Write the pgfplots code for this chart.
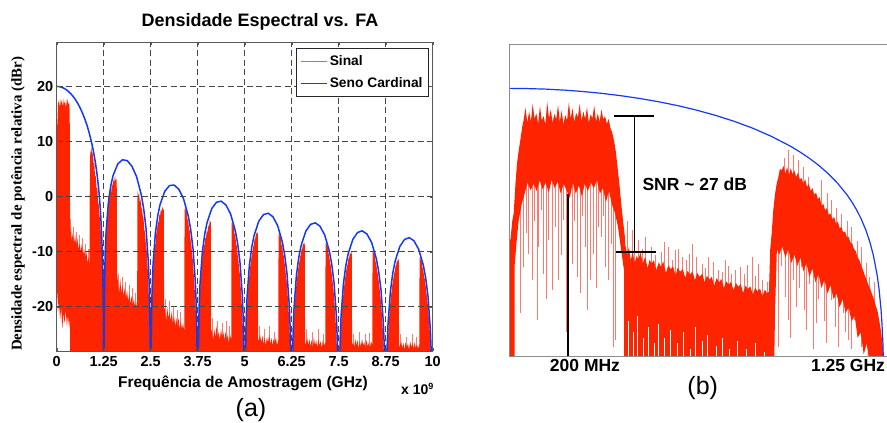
\documentclass[border=0pt]{standalone}
\usepackage{fontspec}
\setmainfont{Liberation Sans}
\newfontfamily\serifbold{Liberation Serif}
\usepackage{pgfplots}
\pgfplotsset{compat=1.18}
\definecolor{sigred}{RGB}{255,36,0}
\definecolor{spk}{RGB}{255,120,110}
\definecolor{sincblue}{RGB}{20,55,250}
\definecolor{gridgray}{RGB}{70,70,70}
\newcommand\fs[1]{\fontsize{#1}{#1}\selectfont}
\begin{document}
\begin{tikzpicture}
\path[use as bounding box] (0pt,0pt) rectangle (887pt,423pt);
% ---------------- panel (a) ----------------
\begin{axis}[at={(56.7pt,72pt)}, anchor=south west, width=376pt, height=308.7pt, scale only axis,
  xmin=0, xmax=10, ymin=-28, ymax=28,
  xtick={0,1.25,2.5,3.75,5,6.25,7.5,8.75,10},
  xticklabels={0,1.25,2.5,3.75,5,6.25,7.5,8.75,10},
  ytick={-20,-10,0,10,20}, yticklabels={-20,-10,0,10,20},
  grid=major, major grid style={gridgray, line width=0.9pt, dash pattern=on 6pt off 3.5pt},
  axis on top,
  tick label style={font=\bfseries\fs{14.5}},
  xticklabel style={yshift=-2pt},
  axis line style={black!65, line width=0.9pt},
  tick align=inside, major tick length=3pt, tick style={black!65},
  legend style={at={(0.99,0.9815)}, anchor=north east, draw=black!85, line width=0.8pt, fill=white,
    font=\bfseries\fs{13.8}, row sep=7pt, inner xsep=4pt, inner ysep=5pt},
  legend cell align=left,
  legend image code/.code={\draw[#1] (0pt,0pt) -- (26pt,0pt);},
]
\addplot[spk, line width=0.6pt, unbounded coords=jump, forget plot] coordinates {
(0.37,-28) (0.37,-4) (0.37,nan) (0.45,-28) (0.45,-5.5) (0.45,nan) (0.53,-28) (0.53,-6.5) (0.53,nan) (0.6,-28) (0.6,-7) (0.6,nan)
(0.68,-28) (0.68,-7.5) (0.68,nan) (0.75,-28) (0.75,-8.5) (0.75,nan) (0.83,-28) (0.83,-9.5) (0.83,nan)
(1.65,-28) (1.65,-14) (1.65,nan) (1.74,-28) (1.74,-14.5) (1.74,nan) (1.83,-28) (1.83,-15.5) (1.83,nan) (1.92,-28) (1.92,-16) (1.92,nan) (2.0,-28) (2.0,-16.5) (2.0,nan) (2.09,-28) (2.09,-17.5) (2.09,nan)
(2.9,-28) (2.9,-18.5) (2.9,nan) (3.0,-28) (3.0,-19) (3.0,nan) (3.1,-28) (3.1,-20) (3.1,nan) (3.2,-28) (3.2,-20.5) (3.2,nan) (3.3,-28) (3.3,-21) (3.3,nan)
(4.15,-28) (4.15,-22) (4.15,nan) (4.27,-28) (4.27,-22.5) (4.27,nan) (4.4,-28) (4.4,-23) (4.4,nan) (4.5,-28) (4.5,-22.5) (4.5,nan) (4.6,-28) (4.6,-23.5) (4.6,nan)
(5.4,-28) (5.4,-23.5) (5.4,nan) (5.52,-28) (5.52,-24) (5.52,nan) (5.66,-28) (5.66,-23.5) (5.66,nan) (5.78,-28) (5.78,-24.5) (5.78,nan)
(6.65,-28) (6.65,-24) (6.65,nan) (6.8,-28) (6.8,-24.5) (6.8,nan) (6.95,-28) (6.95,-24) (6.95,nan) (7.08,-28) (7.08,-25) (7.08,nan)
(7.9,-28) (7.9,-25) (7.9,nan) (8.05,-28) (8.05,-24.5) (8.05,nan) (8.2,-28) (8.2,-25) (8.2,nan) (8.32,-28) (8.32,-24.8) (8.32,nan)
(9.15,-28) (9.15,-25) (9.15,nan) (9.3,-28) (9.3,-25.5) (9.3,nan) (9.45,-28) (9.45,-25) (9.45,nan) (9.57,-28) (9.57,-25.5) (9.57,nan)
};
\addplot[fill=sigred, draw=none, forget plot] coordinates {
(0,-21) (0,8) (0.012,14) (0.02,11) (0.03,16.5) (0.05,17.5) (0.07,16) (0.09,17.8) (0.11,16.4) (0.13,17.6) (0.15,16.2) (0.17,17.9) (0.19,16.5) (0.21,17.4) (0.23,16) (0.25,17.7) (0.27,16.3) (0.29,17.8) (0.31,16.6) (0.33,17.2) (0.345,15.5) (0.352,8) (0.355,-6)
(0.36,-7) (0.38,-5.5) (0.40,-8) (0.43,-6.5) (0.46,-8.5) (0.49,-7) (0.52,-9) (0.55,-7.5) (0.58,-9.5) (0.61,-8.5) (0.64,-10) (0.67,-8.5) (0.70,-10.5) (0.73,-9.5) (0.76,-11) (0.79,-10) (0.82,-12) (0.85,-11) (0.87,-13)
(0.882,5) (0.89,8.5) (0.905,7) (0.92,9.2) (0.94,7.5) (0.96,8.2) (0.98,6) (1.0,6.2) (1.02,3.5) (1.04,3.8) (1.06,1.5) (1.08,1.6) (1.10,-1) (1.12,-1.5) (1.14,-3.5) (1.16,-4.5) (1.18,-7.5) (1.2,-9.5) (1.22,-14) (1.235,-20) (1.245,-28) (1.25,-40)
(1.255,-28) (1.265,-22) (1.28,-14) (1.295,-10) (1.31,-8) (1.33,-5.5) (1.35,-3) (1.37,-2.5) (1.39,-0.5) (1.41,-0.2) (1.43,1.2) (1.45,0.8) (1.47,2.4) (1.49,1.8) (1.51,3.2) (1.53,2.5) (1.55,3.8) (1.57,2.8) (1.59,3.2) (1.6,1) (1.605,-14)
(1.63,-15.5) (1.66,-17.5) (1.69,-15) (1.72,-17.5) (1.75,-16) (1.78,-18) (1.81,-16.5) (1.84,-18.5) (1.87,-17) (1.9,-19) (1.93,-17.5) (1.96,-19.5) (1.99,-18) (2.02,-19.8) (2.05,-18.5) (2.08,-20) (2.11,-19) (2.14,-20.5)
(2.145,-5) (2.15,1.2) (2.17,0) (2.19,0.8) (2.21,-1) (2.23,-0.5) (2.25,-2) (2.27,-2.3) (2.29,-3.5) (2.31,-4) (2.33,-6) (2.35,-6.5) (2.37,-8.5) (2.39,-9.5) (2.41,-12) (2.43,-14) (2.45,-18) (2.47,-22) (2.49,-28) (2.5,-40)
(2.505,-28) (2.515,-24) (2.53,-19) (2.55,-16) (2.57,-13) (2.59,-11) (2.61,-9) (2.63,-8.5) (2.65,-6.5) (2.67,-6) (2.69,-4.5) (2.71,-4.8) (2.73,-3.2) (2.75,-3.5) (2.77,-2.3) (2.79,-2.8) (2.81,-1.8) (2.83,-2.5) (2.85,-2.2) (2.855,-20)
(2.88,-20.5) (2.91,-22.5) (2.94,-20) (2.97,-22) (3.0,-21) (3.03,-22.5) (3.06,-20.8) (3.09,-23) (3.12,-21.5) (3.15,-23.5) (3.18,-22) (3.21,-23.5) (3.24,-22) (3.27,-24) (3.3,-22.5) (3.33,-24) (3.36,-23) (3.395,-24.5)
(3.4,-2.5) (3.42,-1.6) (3.44,-3) (3.46,-2.6) (3.48,-4.2) (3.5,-4.5) (3.52,-5.8) (3.54,-6.3) (3.56,-7.8) (3.58,-8.6) (3.6,-10.3) (3.62,-11.5) (3.64,-13.5) (3.66,-15.5) (3.68,-18) (3.7,-21) (3.72,-25) (3.74,-30) (3.75,-40)
(3.755,-30) (3.77,-26) (3.79,-21) (3.81,-18) (3.83,-15) (3.85,-13.5) (3.87,-11.5) (3.89,-10.5) (3.91,-9) (3.93,-8.8) (3.95,-7.5) (3.97,-7.6) (3.99,-6.2) (4.01,-6.5) (4.03,-5.2) (4.05,-5.6) (4.07,-4.3) (4.09,-4.8) (4.1,-4.5) (4.105,-24)
(4.13,-24.5) (4.16,-26) (4.19,-24) (4.22,-25.5) (4.25,-23.5) (4.28,-25.5) (4.31,-24.5) (4.34,-26) (4.37,-24) (4.4,-25.5) (4.43,-24.5) (4.46,-26) (4.49,-24.5) (4.52,-26) (4.55,-25) (4.58,-26.5) (4.61,-25) (4.645,-26)
(4.65,-5) (4.67,-4.3) (4.69,-5.6) (4.71,-5.2) (4.73,-6.8) (4.75,-7) (4.77,-8.5) (4.79,-9) (4.81,-10.5) (4.83,-11.2) (4.85,-13) (4.87,-14) (4.89,-16) (4.91,-18) (4.93,-20.5) (4.95,-23.5) (4.97,-27) (4.99,-32) (5.0,-40)
(5.005,-32) (5.02,-28) (5.04,-24) (5.06,-20.5) (5.08,-18) (5.1,-16) (5.12,-14.5) (5.14,-13) (5.16,-12) (5.18,-11) (5.2,-10.3) (5.22,-9.2) (5.24,-8.8) (5.26,-7.8) (5.28,-7.6) (5.3,-6.8) (5.32,-6.5) (5.34,-6.9) (5.35,-6.3) (5.355,-26)
(5.38,-26) (5.41,-25) (5.44,-26.5) (5.47,-25.2) (5.5,-26.8) (5.53,-25.5) (5.56,-27) (5.59,-25.5) (5.62,-26.5) (5.65,-25) (5.68,-26.8) (5.71,-25.6) (5.74,-27) (5.77,-25.8) (5.8,-26.5) (5.83,-25.5) (5.86,-27) (5.895,-26)
(5.9,-7) (5.92,-6.5) (5.94,-7.6) (5.96,-7.3) (5.98,-8.8) (6.0,-9) (6.02,-10.3) (6.04,-10.8) (6.06,-12) (6.08,-13) (6.1,-14.5) (6.12,-15.5) (6.14,-17.5) (6.16,-19.5) (6.18,-22) (6.2,-25) (6.22,-28.5) (6.25,-40)
(6.255,-34) (6.27,-30) (6.29,-26) (6.31,-22.5) (6.33,-20) (6.35,-18) (6.37,-16.2) (6.39,-15) (6.41,-13.8) (6.43,-12.8) (6.45,-12) (6.47,-11) (6.49,-10.6) (6.51,-9.6) (6.53,-9.4) (6.55,-8.6) (6.57,-8.5) (6.59,-8.8) (6.6,-8.2) (6.605,-27)
(6.63,-26.5) (6.66,-25.5) (6.69,-27) (6.72,-25.8) (6.75,-27.2) (6.78,-26) (6.81,-27.5) (6.84,-25.5) (6.87,-27) (6.9,-26) (6.93,-27.4) (6.96,-25.8) (6.99,-27) (7.02,-26.2) (7.05,-27.5) (7.08,-26) (7.11,-27) (7.145,-26.5)
(7.15,-8.6) (7.17,-8.2) (7.19,-9.2) (7.21,-9) (7.23,-10.3) (7.25,-10.8) (7.27,-12) (7.29,-12.5) (7.31,-13.8) (7.33,-14.8) (7.35,-16.2) (7.37,-17.5) (7.39,-19.5) (7.41,-21.5) (7.43,-24) (7.45,-27) (7.47,-31) (7.5,-40)
(7.505,-34) (7.52,-31) (7.54,-27) (7.56,-24) (7.58,-21.5) (7.6,-19.5) (7.62,-18) (7.64,-16.5) (7.66,-15.5) (7.68,-14.3) (7.7,-13.5) (7.72,-12.6) (7.74,-12.2) (7.76,-11.2) (7.78,-11) (7.8,-10.2) (7.82,-10.4) (7.84,-10) (7.85,-10.6) (7.855,-27)
(7.88,-26.5) (7.91,-27.3) (7.94,-25.8) (7.97,-27) (8.0,-26) (8.03,-27.5) (8.06,-26.2) (8.09,-27.2) (8.12,-25.8) (8.15,-27) (8.18,-26.4) (8.21,-27.5) (8.24,-26) (8.27,-27.2) (8.3,-26.5) (8.33,-27.5) (8.36,-26.2) (8.395,-27)
(8.4,-10) (8.42,-9.6) (8.44,-10.6) (8.46,-10.5) (8.48,-11.8) (8.5,-12.2) (8.52,-13.3) (8.54,-14) (8.56,-15) (8.58,-16.2) (8.6,-17.4) (8.62,-18.8) (8.64,-20.5) (8.66,-22.5) (8.68,-25) (8.7,-28) (8.72,-32) (8.75,-40)
(8.755,-36) (8.77,-32) (8.79,-29) (8.81,-26) (8.83,-23) (8.85,-21) (8.87,-19.5) (8.89,-18) (8.91,-17) (8.93,-15.8) (8.95,-15) (8.97,-14) (8.99,-13.6) (9.01,-12.6) (9.03,-12.4) (9.05,-11.5) (9.07,-11.8) (9.09,-11.2) (9.1,-11.8) (9.105,-27.5)
(9.13,-27) (9.16,-26.2) (9.19,-27.5) (9.22,-26.5) (9.25,-27.8) (9.28,-26.4) (9.31,-27.4) (9.34,-26.6) (9.37,-27.8) (9.4,-26.2) (9.43,-27.3) (9.46,-26.5) (9.49,-27.6) (9.52,-26.4) (9.55,-27.5) (9.58,-26.8) (9.61,-27.6) (9.645,-26.8)
(9.65,-11.2) (9.67,-10.8) (9.69,-11.8) (9.71,-11.6) (9.73,-12.9) (9.75,-13.3) (9.77,-14.4) (9.79,-15) (9.81,-16) (9.83,-17.2) (9.85,-18.4) (9.87,-19.6) (9.89,-21.2) (9.91,-23) (9.93,-25.2) (9.95,-28) (9.97,-32) (10,-40)
(0.36,-40) (0.354,-22) (0.33,-24) (0.3,-21.5) (0.27,-23.5) (0.24,-20.5) (0.21,-23) (0.18,-21) (0.15,-24) (0.12,-20) (0.09,-22.5) (0.06,-19) (0.035,-21) (0.015,-16) (0,-21)
};
\addplot[sincblue, line width=1.5pt, forget plot] coordinates {
(0,20) (0.0625,19.96) (0.125,19.86) (0.1875,19.68) (0.25,19.42) (0.3125,19.09) (0.375,18.67) (0.4375,18.17) (0.5,17.58) (0.5625,16.89) (0.625,16.08) (0.6875,15.14) (0.75,14.06) (0.8125,12.80) (0.875,11.31) (0.9375,9.55) (0.96875,8.52) (1.0,7.38) (1.03125,6.09) (1.0625,4.61) (1.09375,2.87) (1.125,0.77) (1.140625,-0.47) (1.15625,-1.90) (1.171875,-3.58) (1.1875,-5.61) (1.2,-7.63) (1.2125,-10.21) (1.225,-13.81) (1.23125,-16.35) (1.2375,-19.91) (1.240625,-22.43) (1.24375,-25.98) (1.2475,-33.96) (1.25,-60)
(1.2625,-20.09) (1.2875,-10.73) (1.3125,-6.48) (1.375,-0.97) (1.4375,1.98) (1.5,3.85) (1.625,5.94) (1.75,6.69) (1.875,6.54) (2.0,5.53) (2.125,3.61) (2.25,0.33) (2.3125,-2.15) (2.375,-5.72) (2.4375,-11.85) (2.4625,-16.36) (2.4875,-25.98) (2.5,-60)
(2.5125,-26.07) (2.5375,-16.62) (2.5625,-12.29) (2.625,-6.59) (2.6875,-3.45) (2.75,-1.41) (2.875,0.98) (3.0,2.01) (3.125,2.10) (3.25,1.32) (3.375,-0.41) (3.5,-3.51) (3.5625,-5.90) (3.625,-9.39) (3.6875,-15.45) (3.7125,-19.93) (3.7375,-29.52) (3.75,-60)
(3.7625,-29.57) (3.7875,-20.10) (3.8125,-15.74) (3.875,-9.97) (3.9375,-6.77) (4.0,-4.67) (4.125,-2.15) (4.25,-1.01) (4.375,-0.82) (4.5,-1.51) (4.625,-3.15) (4.75,-6.16) (4.8125,-8.51) (4.875,-11.96) (4.9375,-17.99) (4.9625,-22.45) (4.9875,-32.0) (5.0,-60)
(5.0125,-32.07) (5.0375,-22.58) (5.0625,-18.20) (5.125,-12.40) (5.1875,-9.16) (5.25,-7.03) (5.375,-4.45) (5.5,-3.25) (5.625,-3.01) (5.75,-3.64) (5.875,-5.23) (6.0,-8.19) (6.0625,-10.52) (6.125,-13.95) (6.1875,-19.95) (6.2125,-24.40) (6.2375,-33.97) (6.25,-60)
(6.2625,-34.0) (6.2875,-24.50) (6.3125,-20.12) (6.375,-14.29) (6.4375,-11.04) (6.5,-8.88) (6.625,-6.27) (6.75,-5.03) (6.875,-4.75) (7.0,-5.35) (7.125,-6.90) (7.25,-9.83) (7.3125,-12.15) (7.375,-15.56) (7.4375,-21.54) (7.4625,-25.99) (7.4875,-35.55) (7.5,-60)
(7.5125,-35.58) (7.5375,-26.08) (7.5625,-21.69) (7.625,-15.85) (7.6875,-12.58) (7.75,-10.41) (7.875,-7.77) (8.0,-6.51) (8.125,-6.20) (8.25,-6.77) (8.375,-8.31) (8.5,-11.21) (8.5625,-13.52) (8.625,-16.92) (8.6875,-22.89) (8.7125,-27.34) (8.7375,-36.9) (8.75,-60)
(8.7625,-36.92) (8.7875,-27.41) (8.8125,-23.02) (8.875,-17.17) (8.9375,-13.89) (9.0,-11.71) (9.125,-9.05) (9.25,-7.77) (9.375,-7.44) (9.5,-8.00) (9.625,-9.51) (9.75,-12.41) (9.8125,-14.70) (9.875,-18.10) (9.9375,-24.06) (9.9625,-28.5) (9.9875,-38.0) (10,-60)
};
\addlegendimage{sigred!75!white, line width=1pt}
\addlegendentry{Sinal}
\addlegendimage{sincblue, line width=1.5pt}
\addlegendentry{Seno Cardinal}
\end{axis}
\node[font=\bfseries\fs{18}] at (260pt,401pt) {Densidade Espectral vs. FA};
\node[rotate=90, font=\serifbold\bfseries\fs{14.9}] at (18pt,219pt) {Densidade espectral de potência relativa (dBr)};
\node[font=\bfseries\fs{15.5}] at (243pt,40pt) {Frequência de Amostragem (GHz)};
\node[font=\bfseries\fs{14}, anchor=base west, inner sep=0pt] at (401pt,28pt) {x 10\raisebox{5pt}{\fs{9}9}};
\node[font=\fs{25}] at (251pt,13pt) {(a)};
% ---------------- panel (b) ----------------
\begin{axis}[at={(509.5pt,66.3pt)}, anchor=south west, width=376.5pt, height=312.7pt, scale only axis,
  xmin=0.005, xmax=1.254, ymin=-28.4, ymax=28,
  xtick=\empty, ytick=\empty, axis line style={draw=none},
]
\addplot[spk, line width=0.6pt, unbounded coords=jump, forget plot] coordinates {
(0.041,8) (0.041,-20.6) (0.041,nan) (0.052,8) (0.052,-12.2) (0.052,nan) (0.06,8) (0.06,-6) (0.06,nan)
(0.0687,8) (0.0687,-9.8) (0.0687,nan) (0.0797,8) (0.0797,-14.6) (0.0797,nan) (0.088,8) (0.088,-4) (0.088,nan)
(0.0963,8) (0.0963,-21.8) (0.0963,nan) (0.1018,8) (0.1018,-8.6) (0.1018,nan) (0.11,8) (0.11,-2) (0.11,nan)
(0.1184,8) (0.1184,-13.4) (0.1184,nan) (0.128,8) (0.128,-18) (0.128,nan) (0.135,8) (0.135,-7.4) (0.135,nan)
(0.146,8) (0.146,-16.4) (0.146,nan) (0.158,8) (0.158,-5) (0.158,nan) (0.168,8) (0.168,-14.6) (0.168,nan)
(0.176,8) (0.176,-10) (0.176,nan) (0.185,8) (0.185,-3.8) (0.185,nan) (0.194,8) (0.194,-24) (0.194,nan)
(0.201,8) (0.201,-7.4) (0.201,nan) (0.212,8) (0.212,-11.6) (0.212,nan) (0.22,8) (0.22,-4) (0.22,nan)
(0.229,8) (0.229,-14) (0.229,nan) (0.24,8) (0.24,-17) (0.24,nan) (0.248,8) (0.248,-3) (0.248,nan)
(0.256,8) (0.256,-8.6) (0.256,nan) (0.264,8) (0.264,-20) (0.264,nan) (0.273,8) (0.273,-14.6) (0.273,nan)
(0.284,8) (0.284,-9.8) (0.284,nan) (0.292,8) (0.292,-16) (0.292,nan) (0.3,8) (0.3,-5) (0.3,nan)
(0.311,8) (0.311,-6.8) (0.311,nan) (0.316,8) (0.316,-3) (0.316,nan) (0.323,8) (0.323,-12.2) (0.323,nan)
(0.334,8) (0.334,-14.6) (0.334,nan) (0.342,8) (0.342,-8) (0.342,nan) (0.35,8) (0.35,-26.6) (0.35,nan) (0.356,5) (0.356,-25.4) (0.356,nan)
(0.395,-22) (0.395,-4) (0.395,nan) (0.411,-22) (0.411,-5.6) (0.411,nan) (0.42,-22) (0.42,-8) (0.42,nan)
(0.433,-22) (0.433,-7.4) (0.433,nan) (0.445,-22) (0.445,-9) (0.445,nan) (0.455,-22) (0.455,-6.8) (0.455,nan)
(0.477,-22) (0.477,-8.6) (0.477,nan) (0.49,-22) (0.49,-10) (0.49,nan) (0.51,-22) (0.51,-9.5) (0.51,nan)
(0.52,-22) (0.52,-7.8) (0.52,nan) (0.532,-22) (0.532,-8.6) (0.532,nan) (0.545,-22) (0.545,-11) (0.545,nan)
(0.554,-22) (0.554,-9.2) (0.554,nan) (0.565,-22) (0.565,-9) (0.565,nan) (0.577,-22) (0.577,-10.4) (0.577,nan)
(0.59,-22) (0.59,-11) (0.59,nan) (0.6,-22) (0.6,-9.8) (0.6,nan) (0.61,-22) (0.61,-8) (0.61,nan)
(0.625,-22) (0.625,-10.5) (0.625,nan) (0.643,-22) (0.643,-11.6) (0.643,nan) (0.655,-22) (0.655,-12.4) (0.655,nan)
(0.665,-22) (0.665,-10.4) (0.665,nan) (0.68,-22) (0.68,-11.4) (0.68,nan) (0.698,-22) (0.698,-12.8) (0.698,nan)
(0.71,-22) (0.71,-13.2) (0.71,nan) (0.72,-22) (0.72,-11) (0.72,nan) (0.73,-22) (0.73,-12) (0.73,nan)
(0.742,-22) (0.742,-13.4) (0.742,nan) (0.755,-22) (0.755,-12.8) (0.755,nan) (0.77,-22) (0.77,-12.2) (0.77,nan)
(0.785,-22) (0.785,-13.5) (0.785,nan) (0.795,-22) (0.795,-11.8) (0.795,nan) (0.809,-22) (0.809,-10.4) (0.809,nan)
(0.82,-22) (0.82,-13.8) (0.82,nan) (0.83,-22) (0.83,-11.6) (0.83,nan) (0.845,-22) (0.845,-14.6) (0.845,nan) (0.86,-22) (0.86,-15) (0.86,nan)
(0.897,-2) (0.897,-26.6) (0.897,nan) (0.908,-2) (0.908,-12) (0.908,nan) (0.919,-2) (0.919,-17.6) (0.919,nan)
(0.93,-2) (0.93,-21.8) (0.93,nan) (0.938,-2) (0.938,-25) (0.938,nan) (0.946,-3) (0.946,-14.6) (0.946,nan)
(0.957,-3) (0.957,-19.4) (0.957,nan) (0.965,-3) (0.965,-16) (0.965,nan) (0.974,-4) (0.974,-12.2) (0.974,nan)
(0.982,-4) (0.982,-20) (0.982,nan) (0.99,-5) (0.99,-23.6) (0.99,nan) (1.001,-5) (1.001,-15.2) (1.001,nan)
(1.012,-6) (1.012,-27) (1.012,nan) (1.023,-6) (1.023,-22.4) (1.023,nan) (1.03,-6) (1.03,-18) (1.03,nan)
(1.04,-7) (1.04,-14.6) (1.04,nan) (1.048,-7) (1.048,-22) (1.048,nan) (1.057,-8) (1.057,-26) (1.057,nan)
(1.073,-9) (1.073,-18.2) (1.073,nan) (1.085,-10) (1.085,-23) (1.085,nan) (1.095,-10) (1.095,-26.6) (1.095,nan)
(1.112,-11) (1.112,-20.6) (1.112,nan) (1.12,-12) (1.12,-24) (1.12,nan) (1.128,-12) (1.128,-25.4) (1.128,nan)
(1.14,-13) (1.14,-27) (1.14,nan) (1.15,-14) (1.15,-21.8) (1.15,nan) (1.16,-15) (1.16,-24) (1.16,nan) (1.172,-16) (1.172,-26.6) (1.172,nan)
(0.918,0) (0.918,7.5) (0.918,nan) (0.93,0) (0.93,8.9) (0.93,nan) (0.945,0) (0.945,8) (0.945,nan)
(0.963,0) (0.963,7.1) (0.963,nan) (0.98,-2) (0.98,5.8) (0.98,nan) (0.996,-2) (0.996,4) (0.996,nan)
(1.04,-5) (1.04,3.4) (1.04,nan) (1.06,-6) (1.06,1.2) (1.06,nan) (1.073,-6) (1.073,-0.2) (1.073,nan)
(1.09,-8) (1.09,-1.5) (1.09,nan) (1.107,-9) (1.107,-2.6) (1.107,nan) (1.125,-10) (1.125,-4) (1.125,nan)
(1.14,-12) (1.14,-5) (1.14,nan) (1.158,-13) (1.158,-7.5) (1.158,nan) (1.173,-15) (1.173,-8.6) (1.173,nan)
(1.19,-17) (1.19,-11.5) (1.19,nan) (1.2,-18) (1.2,-14) (1.2,nan) (1.215,-20) (1.215,-15) (1.215,nan)
};
% first band
\addplot[fill=sigred, draw=none, forget plot] coordinates {
(0.005,-7) (0.008,-7.4) (0.014,-4) (0.019,-2.5) (0.025,3) (0.030,6.5) (0.036,9) (0.041,10.7) (0.047,13) (0.052,14.3) (0.058,16.5) (0.064,13.8) (0.07,15.8) (0.076,14) (0.082,17.2) (0.088,14.5) (0.094,15.5) (0.1,13.6) (0.106,16.8) (0.112,14.2) (0.118,15) (0.124,13.5) (0.13,17.6) (0.136,14.6) (0.142,16.2) (0.148,13.8) (0.154,15.4) (0.16,14.4) (0.166,17) (0.172,14) (0.178,16) (0.184,13.5) (0.19,15.2) (0.196,14.2) (0.202,17.5) (0.208,14.5) (0.214,16.4) (0.22,13.9) (0.226,15.6) (0.232,14.8) (0.238,17.2) (0.244,14.1) (0.25,15.8) (0.256,14.5) (0.262,16.6) (0.268,13.8) (0.274,15.3) (0.28,14.6) (0.286,16.9) (0.292,14) (0.298,15.5) (0.304,13.9) (0.31,16.2) (0.316,14.4) (0.322,15) (0.328,13.6) (0.334,14.5) (0.34,12.8) (0.346,12) (0.352,10.5) (0.358,8.5) (0.364,5.5) (0.37,2.5) (0.376,-1) (0.382,-4) (0.388,-7)
(0.388,-14) (0.375,-9) (0.365,-5) (0.355,-2.5) (0.345,-1) (0.335,1.5) (0.325,-0.5) (0.315,2) (0.305,1) (0.295,3.5) (0.285,2) (0.275,3) (0.265,1.5) (0.255,2.8) (0.245,0.5) (0.235,2.5) (0.225,1) (0.215,3) (0.205,0.2) (0.195,1.5) (0.185,2.8) (0.175,1) (0.165,3.2) (0.155,2) (0.145,3.5) (0.135,1.2) (0.125,3) (0.115,1.8) (0.105,3.4) (0.095,1.5) (0.085,2.8) (0.075,1.6) (0.065,3) (0.055,1) (0.045,-1) (0.035,-4) (0.028,-8) (0.022,-12) (0.022,-40) (0.005,-40)
};
% noise floor
\addplot[fill=sigred, draw=none, forget plot] coordinates {
(0.385,-6) (0.39,-8.5) (0.396,-10) (0.401,-8.6) (0.407,-11) (0.414,-9.4) (0.42,-11.5) (0.427,-10.2) (0.432,-10.8) (0.44,-9.6) (0.447,-11.6) (0.455,-10.4) (0.463,-12.4) (0.47,-10.9) (0.476,-11.6) (0.484,-11) (0.492,-12.8) (0.5,-11.4) (0.508,-12.2) (0.515,-11.2) (0.524,-13.3) (0.532,-11.9) (0.54,-12.6) (0.548,-12.1) (0.556,-13.8) (0.563,-12.3) (0.571,-13.1) (0.58,-12.6) (0.588,-14.2) (0.596,-12.9) (0.604,-13.6) (0.612,-13) (0.62,-14.6) (0.628,-13.3) (0.636,-14) (0.645,-13.4) (0.652,-15) (0.66,-13.8) (0.668,-14.5) (0.676,-14) (0.684,-15.6) (0.692,-14.2) (0.7,-15) (0.708,-14.4) (0.716,-16) (0.724,-14.8) (0.732,-15.4) (0.74,-14.9) (0.748,-16.4) (0.756,-15.1) (0.764,-15.8) (0.772,-15.3) (0.78,-16.9) (0.788,-15.6) (0.796,-16.2) (0.804,-15.7) (0.812,-17.2) (0.82,-16) (0.828,-16.6) (0.836,-16.1) (0.844,-17.5) (0.852,-16.3) (0.86,-17) (0.868,-16.5) (0.87,-40) (0.385,-40)
};
% image band
\addplot[fill=sigred, draw=none, forget plot] coordinates {
(0.866,-16) (0.87,-9) (0.875,-6) (0.88,-2) (0.886,1) (0.892,3) (0.897,4) (0.902,5.5) (0.908,5.2) (0.914,6) (0.92,4.6) (0.926,5.8) (0.932,4.4) (0.938,5.6) (0.944,4.5) (0.95,5.2) (0.956,4) (0.962,4.8) (0.968,3.6) (0.974,3.8) (0.98,2.8) (0.986,3.6) (0.992,2.2) (0.998,2.8) (1.004,1.5) (1.01,2) (1.016,0.8) (1.022,1.2) (1.028,0) (1.034,0.4) (1.04,-1.2) (1.046,-0.8) (1.052,-2) (1.058,-1.6) (1.064,-2.8) (1.07,-2.6) (1.076,-3.6) (1.082,-3.2) (1.088,-4.4) (1.094,-4) (1.1,-5.2) (1.106,-5) (1.112,-6) (1.118,-5.8) (1.124,-6.8) (1.13,-6.8) (1.136,-7.8) (1.142,-8) (1.148,-9) (1.154,-9.4) (1.16,-10.5) (1.166,-11) (1.172,-12) (1.178,-12.8) (1.184,-13.8) (1.19,-14.6) (1.196,-15.5) (1.202,-16.2) (1.208,-17.2) (1.214,-18) (1.22,-19.2) (1.226,-20.2) (1.232,-22) (1.238,-24) (1.244,-27) (1.248,-32)
(1.248,-40) (1.22,-40) (1.2,-30) (1.19,-26) (1.18,-28) (1.17,-24) (1.16,-25) (1.15,-21) (1.14,-22) (1.13,-19.5) (1.12,-20.5) (1.11,-18) (1.1,-19.5) (1.09,-17) (1.08,-18) (1.07,-15.5) (1.06,-17) (1.05,-14.5) (1.04,-16) (1.03,-13.5) (1.02,-15) (1.01,-12.5) (1.0,-14) (0.99,-11.5) (0.98,-13) (0.97,-10.5) (0.96,-12) (0.95,-10) (0.94,-11.5) (0.93,-9) (0.92,-10.5) (0.91,-8.5) (0.9,-10) (0.892,-9) (0.886,-20) (0.88,-40) (0.866,-40)
};
% light streaks at the bottom of the noise floor
\addplot[white, line width=0.6pt, unbounded coords=jump, forget plot] coordinates {
(0.4,-40) (0.4,-22) (0.4,nan) (0.415,-40) (0.415,-24) (0.415,nan) (0.43,-40) (0.43,-21) (0.43,nan)
(0.448,-40) (0.448,-25) (0.448,nan) (0.465,-40) (0.465,-23) (0.465,nan) (0.485,-40) (0.485,-26) (0.485,nan)
(0.5,-40) (0.5,-22.5) (0.5,nan) (0.52,-40) (0.52,-25) (0.52,nan) (0.54,-40) (0.54,-23.5) (0.54,nan)
(0.56,-40) (0.56,-26) (0.56,nan) (0.58,-40) (0.58,-24) (0.58,nan) (0.605,-40) (0.605,-27) (0.605,nan)
(0.62,-40) (0.62,-23) (0.62,nan) (0.645,-40) (0.645,-25.5) (0.645,nan) (0.66,-40) (0.66,-24.5) (0.66,nan)
(0.69,-40) (0.69,-26.5) (0.69,nan) (0.71,-40) (0.71,-25) (0.71,nan) (0.735,-40) (0.735,-27) (0.735,nan)
(0.76,-40) (0.76,-25.5) (0.76,nan) (0.79,-40) (0.79,-27) (0.79,nan) (0.82,-40) (0.82,-26) (0.82,nan) (0.85,-40) (0.85,-27.5) (0.85,nan)
};
\addplot[sincblue, line width=1.2pt, forget plot] coordinates {
(0,20) (0.0625,19.96) (0.125,19.86) (0.1875,19.68) (0.25,19.42) (0.3125,19.09) (0.375,18.67) (0.4375,18.17) (0.5,17.58) (0.5625,16.89) (0.625,16.08) (0.6875,15.14) (0.75,14.06) (0.8125,12.80) (0.875,11.31) (0.9375,9.55) (0.96875,8.52) (1.0,7.38) (1.03125,6.09) (1.0625,4.61) (1.09375,2.87) (1.125,0.77) (1.140625,-0.47) (1.15625,-1.90) (1.171875,-3.58) (1.1875,-5.61) (1.2,-7.63) (1.2125,-10.21) (1.225,-13.81) (1.23125,-16.35) (1.2375,-19.91) (1.240625,-22.43) (1.24375,-25.98) (1.2475,-33.96) (1.25,-60)
};
\draw[black, line width=2pt] (axis cs:0.2,-28.4) -- (axis cs:0.2,0.9);
\draw[black, line width=2.2pt] (axis cs:0.35,15) -- (axis cs:0.483,15);
\draw[black, line width=1.6pt] (axis cs:0.42,15) -- (axis cs:0.42,-9.55);
\draw[black, line width=2.2pt] (axis cs:0.359,-9.55) -- (axis cs:0.49,-9.55);
\end{axis}
\draw[black!45, line width=0.9pt] (887pt,379pt) -- (509.5pt,379pt) -- (509.5pt,66.3pt) -- (887pt,66.3pt);
\node[font=\bfseries\fs{17.5}, anchor=west, inner sep=0pt] at (642.3pt,239pt) {SNR \textasciitilde\ 27 dB};
\node[font=\bfseries\fs{17.5}] at (585pt,58pt) {200 MHz};
\node[font=\bfseries\fs{17.5}] at (848pt,58pt) {1.25 GHz};
\node[font=\fs{25}] at (702.7pt,35pt) {(b)};
\end{tikzpicture}
\end{document}
